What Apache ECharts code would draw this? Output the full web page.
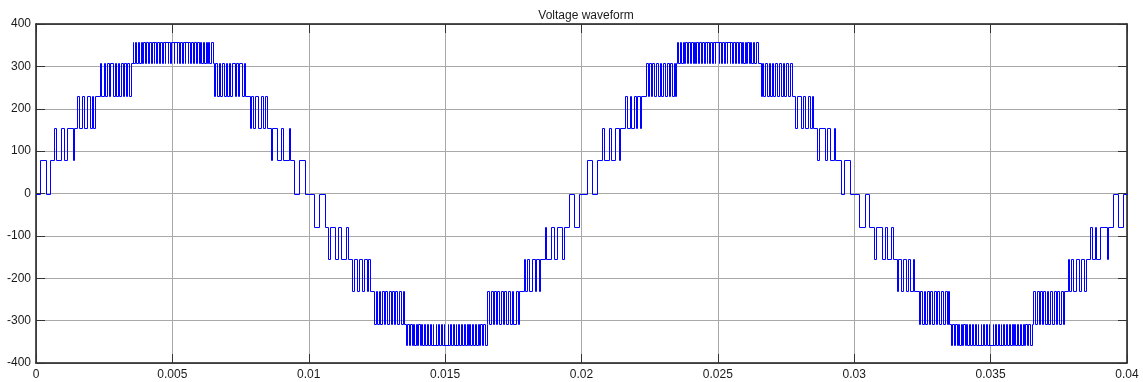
<!DOCTYPE html>
<html>
<head>
<meta charset="utf-8">
<script src="https://cdn.jsdelivr.net/npm/echarts@6/dist/echarts.min.js"></script>
<style>
html,body{margin:0;padding:0;background:#fff;}
#chart{width:1143px;height:382px;}
</style>
</head>
<body>
<div id="chart"></div>
<script>
// Voltage levels (V); a signed index k means sign(k) * levels[|k|]
const levels = [0, 78, 155, 231, 309, 358];

// Switching edges: [time in ms, signed level index after the edge]
const half1 = [
[0,0],
[0.15,1],[0.37,0],[0.53,1],
[0.67,2],[0.73,1],[0.93,2],[1.03,1],[1.15,2],[1.35,1],[1.39,2],
[1.52,3],[1.59,2],[1.68,3],[1.75,2],[1.86,3],[1.97,2],[2.04,3],[2.10,2],[2.15,3],
[2.34,4],[2.40,3],[2.49,4],[2.54,3],[2.61,4],[2.67,3],[2.73,4],[2.81,3],[2.88,4],[2.93,3],[3.00,4],[3.05,3],[3.13,4],[3.18,3],[3.22,4],[3.30,3],[3.35,4],[3.41,3],[3.47,4],
[3.54,5],[3.57,4],[3.64,5],[3.68,4],[3.74,5],[3.78,4],[3.84,5],[3.89,4],[3.94,5],[3.99,4],[4.04,5],[4.10,4],[4.14,5],[4.20,4],[4.24,5],[4.31,4],[4.34,5],[4.41,4],[4.44,5],[4.52,4],[4.54,5],[4.62,4],[4.64,5],[4.72,4],[4.74,5],[4.83,4],[4.84,5],[4.93,4],[4.94,5],[5.06,4],[5.07,5],[5.16,4],[5.17,5],[5.26,4],[5.28,5],[5.36,4],[5.38,5],[5.46,4],[5.48,5],[5.56,4],[5.59,5],[5.66,4],[5.69,5],[5.76,4],[5.80,5],[5.86,4],[5.90,5],[5.96,4],[6.01,5],[6.06,4],[6.11,5],[6.16,4],[6.22,5],[6.26,4],[6.32,5],[6.36,4],[6.43,5],[6.49,4],
[6.51,3],[6.57,4],[6.63,3],[6.71,4],[6.75,3],[6.83,4],[6.88,3],[6.95,4],[7.00,3],[7.07,4],[7.12,3],[7.20,4],[7.28,3],[7.34,4],[7.40,3],[7.46,4],[7.55,3],[7.62,4],[7.67,3],
[7.85,2],[7.90,3],[7.96,2],[8.03,3],[8.14,2],[8.25,3],[8.32,2],[8.41,3],[8.46,2],
[8.61,1],[8.65,2],[8.85,1],[8.97,2],[9.07,1],[9.27,2],[9.31,1],
[9.47,0],[9.63,1],[9.85,0]
];

const half2 = [
[10.21,-1],[10.39,0],[10.60,-1],
[10.72,-2],[10.78,-1],[10.98,-2],[11.08,-1],[11.20,-2],[11.38,-1],[11.43,-2],
[11.60,-3],[11.66,-2],[11.78,-3],[11.85,-2],[11.96,-3],[12.03,-2],[12.12,-3],[12.19,-2],[12.25,-3],
[12.39,-4],[12.45,-3],[12.51,-4],[12.56,-3],[12.63,-4],[12.68,-3],[12.76,-4],[12.81,-3],[12.88,-4],[12.93,-3],[13.00,-4],[13.05,-3],[13.13,-4],[13.18,-3],[13.25,-4],[13.32,-3],[13.40,-4],[13.44,-3],[13.50,-4],
[13.57,-5],[13.60,-4],[13.67,-5],[13.71,-4],[13.77,-5],[13.81,-4],[13.87,-5],[13.92,-4],[13.97,-5],[14.02,-4],[14.07,-5],[14.13,-4],[14.17,-5],[14.23,-4],[14.27,-5],[14.34,-4],[14.37,-5],[14.44,-4],[14.47,-5],[14.55,-4],[14.57,-5],[14.65,-4],[14.67,-5],[14.75,-4],[14.77,-5],[14.86,-4],[14.87,-5],[14.96,-4],[14.97,-5],[15.09,-4],[15.10,-5],[15.19,-4],[15.20,-5],[15.29,-4],[15.31,-5],[15.39,-4],[15.41,-5],[15.49,-4],[15.51,-5],[15.59,-4],[15.62,-5],[15.69,-4],[15.72,-5],[15.79,-4],[15.83,-5],[15.89,-4],[15.93,-5],[15.99,-4],[16.04,-5],[16.09,-4],[16.14,-5],[16.19,-4],[16.25,-5],[16.29,-4],[16.35,-5],[16.39,-4],[16.46,-5],[16.52,-4],
[16.55,-3],[16.61,-4],[16.67,-3],[16.75,-4],[16.79,-3],[16.87,-4],[16.92,-3],[16.99,-4],[17.04,-3],[17.11,-4],[17.16,-3],[17.24,-4],[17.32,-3],[17.38,-4],[17.44,-3],[17.50,-4],[17.59,-3],[17.66,-4],[17.71,-3],
[17.88,-2],[17.93,-3],[17.99,-2],[18.06,-3],[18.17,-2],[18.28,-3],[18.35,-2],[18.44,-3],[18.49,-2],
[18.66,-1],[18.70,-2],[18.89,-1],[19.01,-2],[19.11,-1],[19.30,-2],[19.35,-1],
[19.53,0],[19.71,-1],[19.90,0]
];

const half3 = [
[20.21,1],[20.39,0],[20.57,1],
[20.75,2],[20.81,1],[20.99,2],[21.09,1],[21.21,2],[21.37,1],[21.41,2],
[21.59,3],[21.66,2],[21.77,3],[21.83,2],[21.92,3],[21.99,2],[22.05,3],[22.13,2],[22.19,3],
[22.36,4],[22.42,3],[22.48,4],[22.54,3],[22.60,4],[22.66,3],[22.73,4],[22.79,3],[22.86,4],[22.92,3],[22.99,4],[23.05,3],[23.12,4],[23.19,3],[23.25,4],[23.32,3],[23.39,4],[23.43,3],[23.47,4],
[23.51,5],[23.54,4],[23.61,5],[23.65,4],[23.71,5],[23.75,4],[23.81,5],[23.86,4],[23.91,5],[23.96,4],[24.01,5],[24.07,4],[24.11,5],[24.17,4],[24.21,5],[24.28,4],[24.31,5],[24.38,4],[24.41,5],[24.49,4],[24.51,5],[24.59,4],[24.61,5],[24.69,4],[24.71,5],[24.80,4],[24.81,5],[24.90,4],[24.91,5],[25.03,4],[25.04,5],[25.13,4],[25.14,5],[25.23,4],[25.25,5],[25.33,4],[25.35,5],[25.43,4],[25.45,5],[25.53,4],[25.56,5],[25.63,4],[25.66,5],[25.73,4],[25.77,5],[25.83,4],[25.87,5],[25.93,4],[25.98,5],[26.03,4],[26.08,5],[26.13,4],[26.19,5],[26.23,4],[26.29,5],[26.33,4],[26.40,5],[26.47,4],
[26.57,3],[26.62,4],[26.67,3],[26.74,4],[26.79,3],[26.86,4],[26.91,3],[26.98,4],[27.03,3],[27.10,4],[27.15,3],[27.23,4],[27.30,3],[27.37,4],[27.43,3],[27.49,4],[27.58,3],[27.65,4],[27.70,3],
[27.84,2],[27.90,3],[28.04,2],[28.11,3],[28.20,2],[28.29,3],[28.39,2],[28.44,3],[28.48,2],
[28.64,1],[28.69,2],[28.91,1],[29.01,2],[29.11,1],[29.25,2],[29.30,1],
[29.52,0],[29.64,1],[29.86,0]
];

const half4 = [
[30.16,-1],[30.38,0],[30.55,-1],
[30.74,-2],[30.80,-1],[31.00,-2],[31.12,-1],[31.20,-2],[31.36,-1],[31.41,-2],
[31.56,-3],[31.62,-2],[31.72,-3],[31.80,-2],[31.90,-3],[31.98,-2],[32.06,-3],[32.14,-2],[32.20,-3],
[32.36,-4],[32.42,-3],[32.48,-4],[32.54,-3],[32.60,-4],[32.66,-3],[32.73,-4],[32.79,-3],[32.86,-4],[32.92,-3],[32.99,-4],[33.05,-3],[33.12,-4],[33.19,-3],[33.25,-4],[33.32,-3],[33.39,-4],[33.44,-3],[33.49,-4],
[33.55,-5],[33.58,-4],[33.65,-5],[33.69,-4],[33.75,-5],[33.79,-4],[33.85,-5],[33.90,-4],[33.95,-5],[34.00,-4],[34.05,-5],[34.11,-4],[34.15,-5],[34.21,-4],[34.25,-5],[34.32,-4],[34.35,-5],[34.42,-4],[34.45,-5],[34.53,-4],[34.55,-5],[34.63,-4],[34.65,-5],[34.73,-4],[34.75,-5],[34.84,-4],[34.85,-5],[34.94,-4],[34.95,-5],[35.07,-4],[35.08,-5],[35.17,-4],[35.18,-5],[35.27,-4],[35.29,-5],[35.37,-4],[35.39,-5],[35.47,-4],[35.49,-5],[35.57,-4],[35.60,-5],[35.67,-4],[35.70,-5],[35.77,-4],[35.81,-5],[35.87,-4],[35.91,-5],[35.97,-4],[36.02,-5],[36.07,-4],[36.12,-5],[36.17,-4],[36.23,-5],[36.27,-4],[36.33,-5],[36.37,-4],[36.44,-5],[36.50,-4],
[36.57,-3],[36.63,-4],[36.69,-3],[36.76,-4],[36.81,-3],[36.88,-4],[36.93,-3],[37.00,-4],[37.05,-3],[37.12,-4],[37.17,-3],[37.25,-4],[37.32,-3],[37.39,-4],[37.45,-3],[37.51,-4],[37.59,-3],[37.64,-4],[37.68,-3],
[37.84,-2],[37.89,-3],[37.95,-2],[38.02,-3],[38.13,-2],[38.24,-3],[38.31,-2],[38.42,-3],[38.49,-2],
[38.64,-1],[38.70,-2],[38.82,-1],[38.88,-2],[39.01,-1],[39.25,-2],[39.30,-1],
[39.47,0],[39.66,-1],[39.86,0],
[40.00,0]
];

const xTicks = { min: 0, max: 0.04, step: 0.005 };
const yTicks = { min: -400, max: 400, step: 100 };
const titleText = 'Voltage waveform';

// Edge list in seconds / volts
const edges = [];
[half1, half2, half3, half4].forEach(h => h.forEach(([ms, k]) => {
  edges.push([ms / 1000, Math.sign(k) * levels[Math.abs(k)]]);
}));
// Each step item: hold value v0 from t0 to t1, then switch to v1
const steps = [];
for (let i = 0; i < edges.length - 1; i++) {
  steps.push([edges[i][0], edges[i][1], edges[i + 1][0], edges[i + 1][1]]);
}

const FONT = 'Liberation Sans, Arial, sans-serif';
const textStyle = { color: '#1a1a1a', fontFamily: FONT, fontSize: 12 };
const frame = { show: true, onZero: false, lineStyle: { color: '#1a1a1a', width: 1.5 } };
const tick = { show: true, inside: true, length: 9, lineStyle: { color: '#333', width: 1 } };
const grid = { show: true, lineStyle: { color: '#a8a8a8', width: 1 } };

const snap = v => Math.round(v) + 0.5;

const chart = echarts.init(document.getElementById('chart'), null, { renderer: 'canvas' });
chart.setOption({
  animation: false,
  backgroundColor: '#fff',
  title: {
    text: titleText, left: 581, top: 5, textAlign: 'center',
    textStyle: { color: '#1a1a1a', fontFamily: FONT, fontSize: 12, fontWeight: 'normal' }
  },
  grid: { left: 36, right: 16, top: 24, bottom: 19, containLabel: false },
  xAxis: [
    {
      type: 'value', min: xTicks.min, max: xTicks.max, interval: xTicks.step, position: 'bottom',
      axisLine: frame, axisTick: tick, splitLine: grid,
      axisLabel: { ...textStyle, margin: 6, formatter: v => String(+v.toFixed(3)) }
    },
    {
      type: 'value', min: xTicks.min, max: xTicks.max, interval: xTicks.step, position: 'top',
      axisLine: frame, axisTick: tick, splitLine: { show: false }, axisLabel: { show: false }
    }
  ],
  yAxis: [
    {
      type: 'value', min: yTicks.min, max: yTicks.max, interval: yTicks.step, position: 'left',
      axisLine: frame, axisTick: tick, splitLine: grid,
      axisLabel: { ...textStyle, margin: 5 }
    },
    {
      type: 'value', min: yTicks.min, max: yTicks.max, interval: yTicks.step, position: 'right',
      axisLine: frame, axisTick: tick, splitLine: { show: false }, axisLabel: { show: false }
    }
  ],
  series: [{
    type: 'custom', xAxisIndex: 0, yAxisIndex: 0, data: steps,
    encode: { x: [0, 2], y: [1, 3] }, z: 3, silent: true,
    renderItem: (params, api) => {
      const a = api.coord([api.value(0), api.value(1)]);
      const b = api.coord([api.value(2), api.value(1)]);
      const c = api.coord([api.value(2), api.value(3)]);
      const pts = [[snap(a[0]), snap(a[1])], [snap(b[0]), snap(b[1])], [snap(c[0]), snap(c[1])]];
      return {
        type: 'polyline',
        shape: { points: pts },
        style: { stroke: '#0000ff', lineWidth: 1, fill: null }
      };
    }
  }]
});
</script>
</body>
</html>
